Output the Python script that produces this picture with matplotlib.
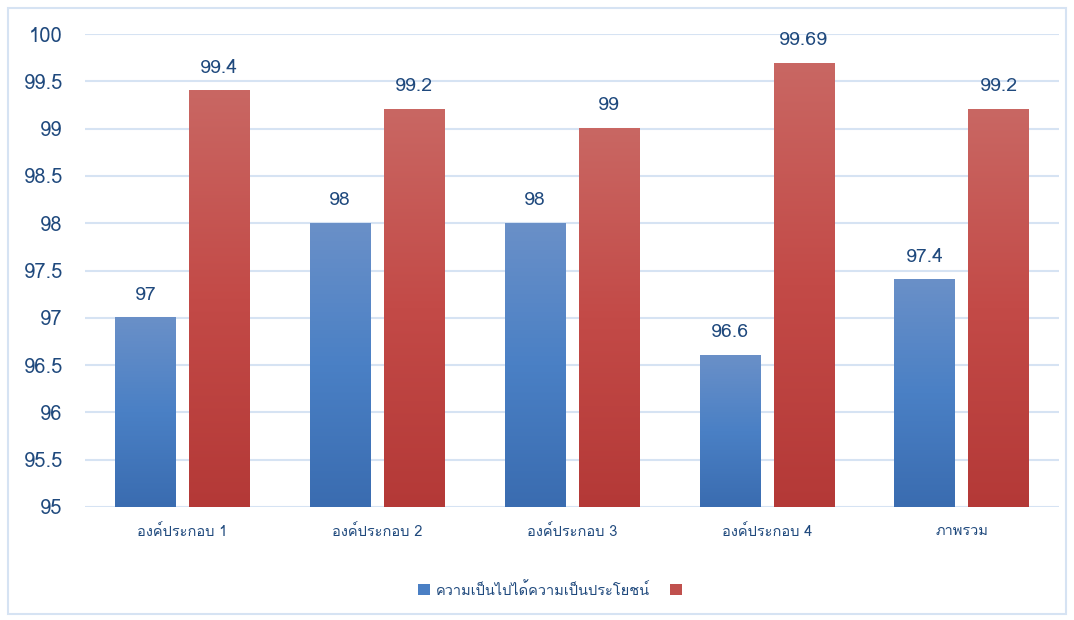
import numpy as np
import matplotlib.pyplot as plt
from matplotlib import font_manager
from matplotlib.ft2font import FT2Font
from matplotlib.patches import Patch, Rectangle
from matplotlib.colors import LinearSegmentedColormap

categories = ['องค์ประกอบ 1', 'องค์ประกอบ 2', 'องค์ประกอบ 3', 'องค์ประกอบ 4', 'ภาพรวม']
feasibility = [97, 98, 98, 96.6, 97.4]
utility = [99.4, 99.2, 99, 99.69, 99.2]
labels_feas = ['97', '98', '98', '96.6', '97.4']
labels_util = ['99.4', '99.2', '99', '99.69', '99.2']
legend_labels = ['ความเป็นไปได้ความเป็นประโยชน์', '']

# find a font that has Thai glyphs
thai_font = None
for f in font_manager.fontManager.ttflist:
    try:
        if 0x0E01 in FT2Font(f.fname).get_charmap():
            thai_font = f.name
            break
    except Exception:
        pass
families = ([thai_font] if thai_font else []) + ['DejaVu Sans']
plt.rcParams['font.family'] = families

txt = '#1f497d'
fig = plt.figure(figsize=(10.74, 6.2), dpi=100)
fig.patches.append(Rectangle((8 / 1074, 6 / 620), 1058 / 1074, 606 / 620, transform=fig.transFigure,
                             fill=False, edgecolor='#d6e3f3', linewidth=1.5))
ax = fig.add_axes([85 / 1074, (620 - 507) / 620, 974 / 1074, 473 / 620])

x = np.arange(len(categories))
w = 0.31
off = 0.19
b1 = ax.bar(x - off, feasibility, w, color='#4a7fc4', zorder=2)
b2 = ax.bar(x + off, utility, w, color='#c0504d', zorder=2)

blue_cm = LinearSegmentedColormap.from_list('b', ['#3a6cb0', '#4a80c5', '#6a90c8'])
red_cm = LinearSegmentedColormap.from_list('r', ['#b43937', '#c34a47', '#c96763'])
grad = np.linspace(0, 1, 256).reshape(-1, 1)
for bars, cm in [(b1, blue_cm), (b2, red_cm)]:
    for r in bars:
        x0, w0, h0 = r.get_x(), r.get_width(), r.get_height()
        ax.imshow(grad, cmap=cm, origin='lower', aspect='auto', zorder=3,
                  extent=(x0, x0 + w0, 95, h0))

for bars, labs in [(b1, labels_feas), (b2, labels_util)]:
    for r, s in zip(bars, labs):
        ax.text(r.get_x() + r.get_width() / 2, r.get_height() + 0.15, s, ha='center', va='bottom',
                fontsize=14, color=txt, zorder=4)

ax.set_xlim(-0.5, len(categories) - 0.5)
ax.set_ylim(95, 100)
ax.set_yticks(np.arange(95, 100.01, 0.5))
ax.set_yticklabels(['95', '95.5', '96', '96.5', '97', '97.5', '98', '98.5', '99', '99.5', '100'])
ax.set_xticks(x)
ax.set_xticklabels(categories, fontsize=10.5, color=txt)
ax.tick_params(axis='y', labelsize=14.5, labelcolor=txt, length=0, pad=16)
ax.tick_params(axis='x', length=0, pad=12)
ax.grid(axis='y', color='#d6e3f3', linewidth=1.5, zorder=0)
ax.set_axisbelow(True)
for s in ax.spines.values():
    s.set_visible(False)

handles = [Patch(facecolor='#4a7fc4'), Patch(facecolor='#c0504d')]
fig.legend(handles, legend_labels, loc='center', bbox_to_anchor=(0.515, 1 - 590 / 620), ncol=2,
           frameon=False, fontsize=10.5, labelcolor=txt, handlelength=0.8, handleheight=0.8,
           columnspacing=1.4, handletextpad=0.4)

fig.savefig('out.png', dpi=100)
